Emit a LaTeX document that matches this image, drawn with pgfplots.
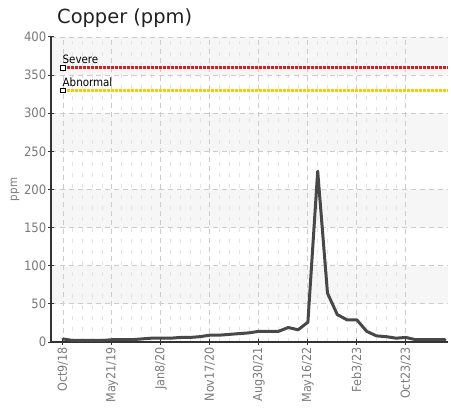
\documentclass[border=0pt]{standalone}
\usepackage{pgfplots}
\pgfplotsset{compat=1.18}
\usepackage{fontspec}
\setmainfont{DejaVu Sans}
\newfontfamily\cond{DejaVu Sans Condensed}
\definecolor{tickgray}{HTML}{7A7A7A}
\definecolor{axisgray}{HTML}{333333}
\definecolor{linegray}{HTML}{484848}
\definecolor{sevred}{HTML}{F41212}
\definecolor{abnyellow}{HTML}{FFC800}
\definecolor{band}{HTML}{F6F6F6}
\begin{document}
\begin{tikzpicture}
\begin{axis}[
  set layers,
  at={(0,0)}, anchor=south west,
  scale only axis, width=397bp, height=305bp,
  xmin=-1.22, xmax=39.3, ymin=0, ymax=400,
  axis x line*=bottom, axis y line*=left,
  axis line style={axisgray, line width=1.2bp},
  xtick={0,5,...,35},
  xticklabels={Oct9/18,May21/19,Jan8/20,Nov17/20,Aug30/21,May16/22,Feb3/23,Oct23/23},
  minor x tick num=4,
  ytick={0,50,...,400},
  tick align=center,
  major tick length=6bp, minor tick length=0bp,
  tick style={axisgray, line width=1bp},
  grid=both,
  major grid style={draw=black!20, dash pattern=on 5bp off 4bp, line width=0.9bp},
  minor grid style={draw=black!11, dash pattern=on 4bp off 7bp, line width=0.9bp},
  /pgf/number format/assume math mode=true,
  y tick label style={font=\cond\fontsize{13}{14}\selectfont, text=tickgray, inner sep=1.5bp},
  x tick label style={rotate=90, anchor=east, font=\cond\fontsize{12.5}{13}\selectfont, text=tickgray, inner sep=2bp},
  ylabel={ppm},
  every axis y label/.style={at={(axis description cs:-0.0907,0.5)}, rotate=90, anchor=center, font=\cond\fontsize{11.5}{12}\selectfont, text=tickgray},
  clip=false,
]
% background bands
\addplot[on layer=axis background, fill=band, draw=none, forget plot] coordinates {(-1.22,50) (39.3,50) (39.3,100) (-1.22,100)};
\addplot[on layer=axis background, fill=band, draw=none, forget plot] coordinates {(-1.22,150) (39.3,150) (39.3,200) (-1.22,200)};
\addplot[on layer=axis background, fill=band, draw=none, forget plot] coordinates {(-1.22,250) (39.3,250) (39.3,300) (-1.22,300)};
\addplot[on layer=axis background, fill=band, draw=none, forget plot] coordinates {(-1.22,350) (39.3,350) (39.3,400) (-1.22,400)};
% thresholds
\addplot[sevred, line width=2.4bp, dash pattern=on 3bp off 1bp, mark=square*, mark indices={1}, mark size=2.4bp, mark options={solid, fill=white, draw=black, line width=0.7bp}] coordinates {(0,360) (39.3,360)};
\addplot[abnyellow, line width=2.4bp, dash pattern=on 3bp off 1bp, mark=square*, mark indices={1}, mark size=2.4bp, mark options={solid, fill=white, draw=black, line width=0.7bp}] coordinates {(0,330) (39.3,330)};
\node[anchor=base west, inner sep=0pt, font=\cond\fontsize{11.5}{12}\selectfont] at (axis cs:-0.05,365.5) {Severe};
\node[anchor=base west, inner sep=0pt, font=\cond\fontsize{11.5}{12}\selectfont] at (axis cs:-0.05,335.5) {Abnormal};
% data
\addplot[linegray, line width=3bp, line join=round, line cap=round, mark=none] table {
x y
0 4
1 2
2 2
3 2
4 2
5 3
6 3
7 3
8 4
9 5
10 5
11 5
12 6
13 6
14 7
15 9
16 9
17 10
18 11
19 12
20 14
21 14
22 14
23 19
24 16
25 26
26 224
27 64
28 36
29 29
30 29
31 14
32 8
33 7
34 5
35 6
36 3
37 3
38 3
39 3
};
\node[anchor=base west, inner sep=0pt, font=\fontsize{19.5}{21}\selectfont, text=black!87] at ([xshift=6bp, yshift=13.5bp]rel axis cs:0,1) {Copper (ppm)};
\end{axis}
\path (-51bp,-72bp) rectangle (400bp,342bp);
\end{tikzpicture}
\end{document}
